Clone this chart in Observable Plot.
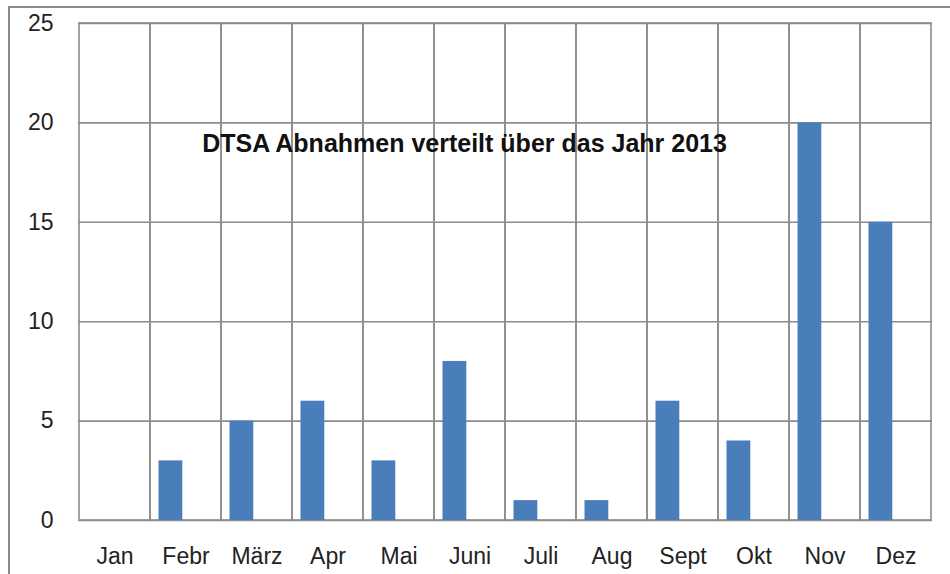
<!DOCTYPE html>
<html>
<head>
<meta charset="utf-8">
<script src="https://cdn.jsdelivr.net/npm/d3@7"></script>
<script src="https://cdn.jsdelivr.net/npm/@observablehq/plot@0.6"></script>
<style>
  html, body { margin: 0; padding: 0; background: #fff; }
  #wrap { position: relative; width: 950px; height: 574px; overflow: hidden; }
  #border { position: absolute; left: 8px; top: 6px; width: 960px; height: 600px;
            border-left: 2px solid #8a8a8a; border-top: 2px solid #8a8a8a; pointer-events: none; }
</style>
</head>
<body>
<div id="wrap"><div id="border"></div></div>
<script>
const months = ["Jan", "Febr", "März", "Apr", "Mai", "Juni", "Juli", "Aug", "Sept", "Okt", "Nov", "Dez"];
const values = [0, 3, 5, 6, 3, 8, 1, 1, 6, 4, 20, 15];
const yTicks = [0, 5, 10, 15, 20, 25];
const title = "DTSA Abnahmen verteilt über das Jahr 2013";

const data = months.map((m, i) => ({month: m, value: values[i]}));

const chart = Plot.plot({
  width: 950,
  height: 574,
  marginLeft: 78,
  marginRight: 18,
  marginTop: 23,
  marginBottom: 54,
  style: {fontFamily: "'Liberation Sans', Arial, sans-serif", fontSize: "23px", color: "#222", background: "transparent"},
  x: {type: "band", domain: months, padding: 0, label: null, tickSize: 0, tickPadding: 27},
  y: {domain: [0, 25], ticks: yTicks, label: null, tickSize: 0, tickPadding: 25},
  marks: [
    Plot.gridY(yTicks, {stroke: "#8c8c8c", strokeOpacity: 1, strokeWidth: 1.6}),
    Plot.cell(months, {x: d => d, fill: "none", stroke: "#8c8c8c", strokeWidth: 1.6}),
    Plot.barY(data, {x: "month", y: "value", fill: "#4a7ebb", insetLeft: 8.5, insetRight: 38.7}),
    Plot.text([title], {frameAnchor: "top-left", textAnchor: "middle", lineAnchor: "middle",
      dx: 386, dy: 120, fontWeight: "bold", fontSize: 25, fill: "#111"})
  ]
});
document.getElementById("wrap").insertBefore(chart, document.getElementById("border"));
</script>
</body>
</html>
